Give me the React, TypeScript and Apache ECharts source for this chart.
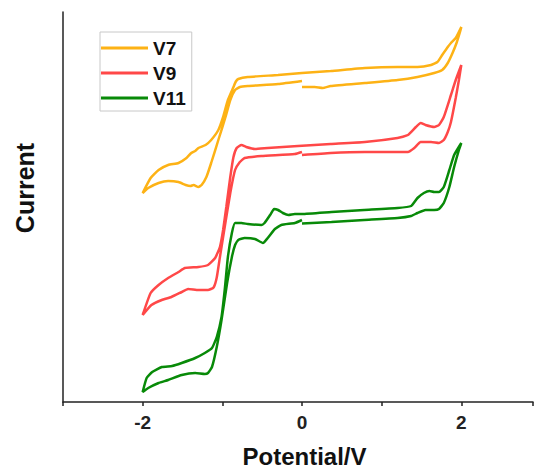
import React, { useEffect, useRef } from 'react';
import * as echarts from 'echarts';

// Cyclic voltammograms: [potential (V), current (arbitrary units, offset per curve)]
const v7Loop: number[][] = [
  [0, 315], [0.16, 315], [0.26, 314], [0.36, 316], [0.79, 319], [1.2, 322], [1.45, 325], [1.66, 329],
  [1.76, 332], [1.83, 339], [1.89, 349], [1.94, 359], [1.98, 369], [2.0, 375],
  [1.93, 364], [1.87, 359], [1.83, 355], [1.76, 347], [1.7, 340], [1.62, 337], [1.45, 335], [1.2, 335],
  [0.79, 334], [0.36, 331], [0, 329], [-0.3, 327], [-0.68, 325], [-0.8, 323], [-0.83, 320.5],
  [-0.86, 315], [-0.93, 302], [-0.99, 285], [-1.05, 272], [-1.14, 262], [-1.21, 257], [-1.3, 254],
  [-1.34, 251], [-1.39, 249], [-1.45, 244], [-1.55, 239], [-1.68, 237], [-1.8, 232], [-1.9, 224], [-2.0, 209],
  [-1.93, 214], [-1.8, 219], [-1.68, 221], [-1.55, 220], [-1.46, 217], [-1.4, 216], [-1.36, 217],
  [-1.3, 215], [-1.26, 217], [-1.2, 225], [-1.14, 239], [-1.05, 262], [-0.96, 285], [-0.9, 302],
  [-0.84, 312], [-0.78, 315], [-0.68, 316], [-0.3, 318], [0, 321],
];

const v9Loop: number[][] = [
  [0, 247], [0.36, 249], [0.79, 250], [1.2, 250], [1.33, 250], [1.41, 254], [1.49, 260], [1.62, 260],
  [1.72, 259], [1.78, 262], [1.83, 270], [1.87, 280], [1.93, 304], [1.97, 322], [2.0, 337],
  [1.93, 322], [1.87, 307], [1.78, 285], [1.72, 277], [1.66, 275], [1.55, 277], [1.49, 279], [1.43, 275],
  [1.33, 267], [1.2, 264], [0.79, 260], [0.36, 258], [-0.05, 256], [-0.43, 254], [-0.59, 253],
  [-0.7, 255], [-0.76, 257], [-0.82, 254], [-0.86, 245], [-0.9, 225], [-0.95, 195], [-0.99, 172],
  [-1.03, 155], [-1.09, 144], [-1.18, 137], [-1.3, 135], [-1.47, 134], [-1.55, 130], [-1.68, 124],
  [-1.8, 117], [-1.9, 109], [-2.0, 87],
  [-1.89, 97], [-1.76, 102], [-1.64, 105], [-1.51, 110], [-1.43, 113], [-1.3, 112], [-1.18, 112],
  [-1.11, 114.5], [-1.07, 124.5], [-1.03, 145], [-0.97, 175], [-0.9, 209], [-0.84, 232], [-0.78, 240],
  [-0.72, 244], [-0.51, 246], [-0.09, 248], [0, 250],
];

const v11Loop: number[][] = [
  [0, 178.5], [0.37, 180], [0.78, 182], [1.2, 184], [1.37, 186], [1.45, 189], [1.55, 192], [1.66, 192],
  [1.72, 193], [1.78, 199], [1.85, 215], [1.91, 235], [1.97, 252], [2.0, 259],
  [1.91, 247], [1.85, 232], [1.78, 215], [1.72, 210], [1.66, 210], [1.6, 211], [1.53, 209], [1.45, 204],
  [1.37, 196], [1.2, 194], [0.78, 192], [0.37, 190], [0, 188], [-0.09, 188], [-0.17, 187], [-0.24, 189],
  [-0.3, 192], [-0.35, 193], [-0.4, 187], [-0.47, 179], [-0.51, 177], [-0.68, 178], [-0.76, 179],
  [-0.84, 179], [-0.88, 169], [-0.93, 145], [-0.97, 112], [-1.01, 85], [-1.07, 65], [-1.13, 54],
  [-1.22, 49], [-1.34, 44], [-1.51, 39], [-1.63, 36], [-1.76, 35], [-1.88, 30], [-1.95, 24], [-2.0, 10],
  [-1.93, 14], [-1.8, 19], [-1.68, 22], [-1.51, 27], [-1.34, 29], [-1.22, 28], [-1.18, 29], [-1.13, 35],
  [-1.07, 55], [-1.01, 82], [-0.94, 119], [-0.88, 145], [-0.84, 157], [-0.8, 162], [-0.72, 164],
  [-0.59, 163], [-0.49, 159], [-0.43, 164], [-0.34, 173], [-0.26, 177], [-0.09, 179], [0, 182],
];

const seriesNames = ['V7', 'V9', 'V11'];
const seriesData = [v7Loop, v9Loop, v11Loop];
const xTickLabels = [-2, 0, 2];
const xAxisTitle = 'Potential/V';
const yAxisTitle = 'Current';

const colors = ['#FDB215', '#FF4848', '#088A08'];
const FONT = 'Arial, "Liberation Sans", Helvetica, sans-serif';

export default function App() {
  const ref = useRef<HTMLDivElement>(null);

  useEffect(() => {
    if (!ref.current) return;
    const chart = echarts.init(ref.current, null, { renderer: 'svg' });
    chart.setOption({
      animation: false,
      backgroundColor: '#ffffff',
      grid: { left: 63, right: 0, top: 12, bottom: 69, containLabel: false },
      xAxis: {
        type: 'value',
        min: -3,
        max: 2.9,
        interval: 1,
        axisLine: { show: true, lineStyle: { color: '#222', width: 1.5 } },
        axisTick: { show: true, length: 4, lineStyle: { color: '#222', width: 1.5 } },
        axisLabel: {
          margin: 11,
          fontSize: 19,
          fontWeight: 'bold',
          color: '#222',
          fontFamily: FONT,
          formatter: (v: number) => (xTickLabels.includes(Math.round(v * 1000) / 1000) ? String(v) : ''),
        },
        splitLine: { show: false },
      },
      yAxis: {
        type: 'value',
        min: 0,
        max: 390,
        axisLine: { show: true, onZero: false, lineStyle: { color: '#222', width: 1.5 } },
        axisTick: { show: false },
        axisLabel: { show: false },
        splitLine: { show: false },
      },
      legend: {
        orient: 'vertical',
        left: 100,
        top: 32,
        padding: [6, 6, 3, 1],
        itemGap: 5,
        itemWidth: 47,
        itemHeight: 3,
        icon: 'rect',
        borderColor: '#c8c8c8',
        borderWidth: 1,
        textStyle: { fontSize: 19, fontWeight: 'bold', color: '#111', fontFamily: FONT, lineHeight: 20 },
        data: seriesNames,
      },
      graphic: [
        {
          type: 'text',
          x: 304.5,
          y: 456,
          style: {
            text: xAxisTitle,
            align: 'center',
            verticalAlign: 'middle',
            font: `bold 24px ${FONT}`,
            fill: '#111',
          },
        },
        {
          type: 'text',
          x: 24.5,
          y: 188,
          rotation: Math.PI / 2,
          style: {
            text: yAxisTitle,
            align: 'center',
            verticalAlign: 'middle',
            font: `bold 25px ${FONT}`,
            fill: '#111',
          },
        },
      ],
      series: seriesNames.map((name, i) => ({
        name,
        type: 'line',
        data: seriesData[i],
        symbol: 'none',
        smooth: 0.15,
        color: colors[i],
        lineStyle: { width: 2.5, color: colors[i] },
      })),
    });
    return () => chart.dispose();
  }, []);

  return (
    <div
      ref={ref}
      style={{ position: 'fixed', left: 0, top: 0, width: 536, height: 471, background: '#fff' }}
    />
  );
}
